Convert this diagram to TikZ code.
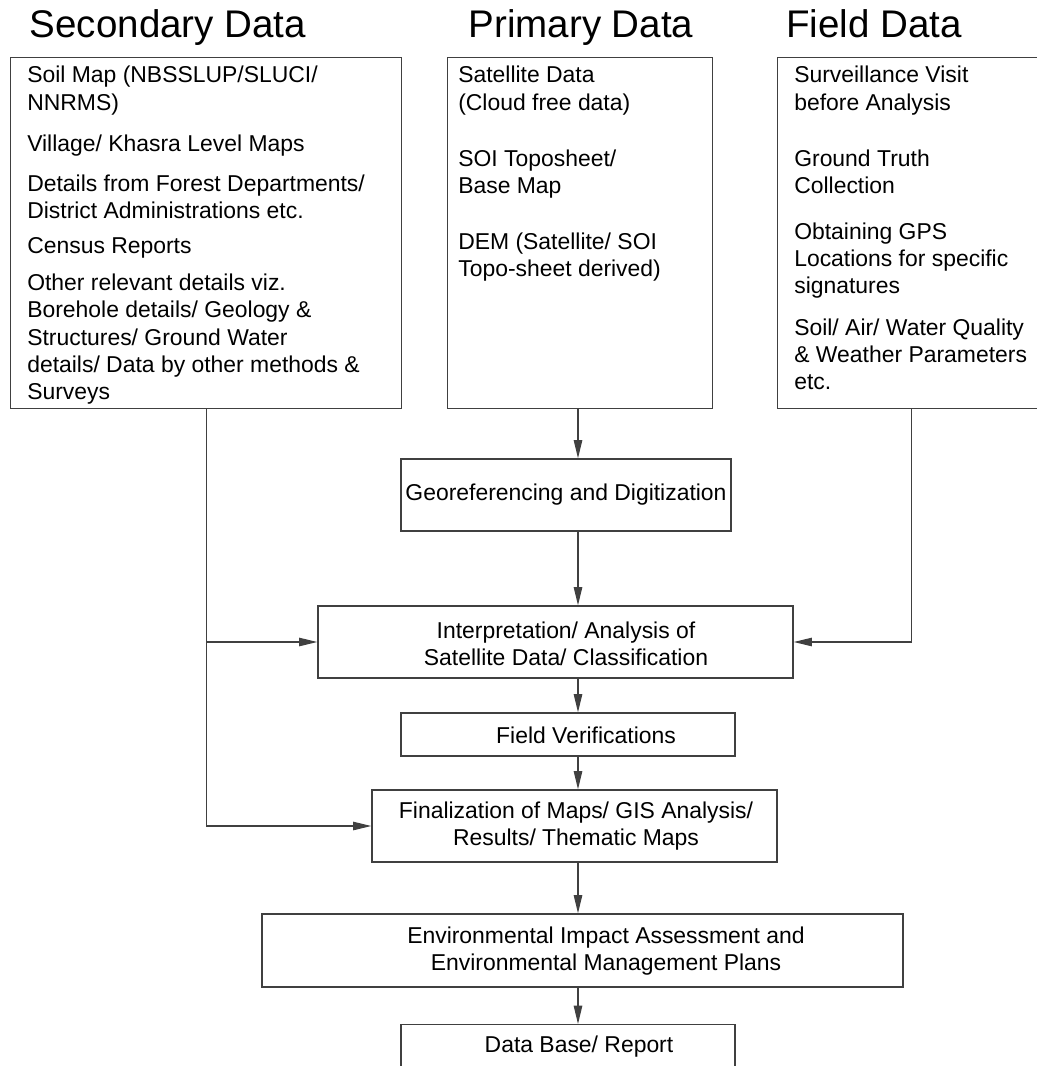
\documentclass[tikz,border=0pt]{standalone}
\usepackage{fontspec}
\setmainfont{Liberation Sans}
\usepackage{tikz}
\usetikzlibrary{arrows.meta,positioning,calc}

\newcommand{\bodyfont}{\fontsize{16.3pt}{19.3pt}\selectfont}
\newcommand{\headfont}{\fontsize{27.4pt}{32pt}\selectfont}

\tikzset{
    frame/.style={draw=black!75, line width=0.9pt, inner sep=0pt},
    boxtext/.style={inner sep=0pt, align=left, anchor=north west, font=\bodyfont},
    steptext/.style={inner sep=0pt, align=center, font=\bodyfont},
    heading/.style={inner sep=0pt, anchor=base, font=\headfont},
    link/.style={draw=black!75, line width=0.9pt, ->},
    >={Triangle[length=13pt,width=6pt]}
}

\begin{document}
\begin{tikzpicture}[x=0.025cm, y=-0.025cm]
    \path[use as bounding box, fill=white] (0,0) rectangle (1037,1066);

    % Headings
    \node[heading] (sechead) at (168,37) {Secondary Data};
    \node[heading] (prihead) at (581,37) {Primary Data};
    \node[heading] (fldhead) at (874,37) {Field Data};

    % Source boxes
    \node[frame, anchor=north west, minimum width=9.775cm, minimum height=8.775cm] (sec) at (10,57) {};
    \node[frame, anchor=north west, minimum width=6.625cm, minimum height=8.775cm] (pri) at (447,57) {};
    \node[frame, anchor=north west, minimum width=6.7cm, minimum height=8.775cm] (fld) at (777,57) {};

    \node[boxtext] (sectxt) at (27,66) {Soil Map (NBSSLUP/SLUCI/\\NNRMS)\\[10pt]
        Village/ Khasra Level Maps\\[9pt]
        Details from Forest Departments/\\District Administrations etc.\\[6pt]
        Census Reports\\[7pt]
        Other relevant details viz.\\Borehole details/ Geology \&\\Structures/ Ground Water\\details/ Data by other methods \&\\Surveys};
    \node[boxtext] (pritxt) at (458,66) {Satellite Data\\(Cloud free data)\\[20.5pt]
        SOI Toposheet/\\Base Map\\[20.5pt]
        DEM (Satellite/ SOI\\Topo-sheet derived)};
    \node[boxtext] (fldtxt) at (794,66) {Surveillance Visit\\before Analysis\\[20.5pt]
        Ground Truth\\Collection\\[13.5pt]
        Obtaining GPS\\Locations for specific\\signatures\\[10.5pt]
        Soil/ Air/ Water Quality\\\& Weather Parameters\\etc.};

    % Processing steps
    \node[frame, minimum width=8.25cm, minimum height=1.8cm] (geo) at (566,495) {};
    \node[frame, minimum width=11.875cm, minimum height=1.8cm] (intp) at (555.5,642) {};
    \node[frame, minimum width=8.35cm, minimum height=1.075cm] (fver) at (568,734.5) {};
    \node[frame, minimum width=10.125cm, minimum height=1.8cm] (fin) at (574.5,826) {};
    \node[frame, minimum width=16.025cm, minimum height=1.825cm] (eia) at (582.5,950.5) {};
    \node[frame, anchor=north, minimum width=8.35cm, minimum height=1.8cm] (db) at (568,1024) {};

    \node[steptext] (geotxt) at (566,495) {Georeferencing and Digitization};
    \node[steptext] (intptxt) at (566,644) {Interpretation/ Analysis of\\Satellite Data/ Classification};
    \node[steptext] (fvertxt) at (586,735) {Field Verifications};
    \node[steptext] (fintxt) at (576,826) {Finalization of Maps/ GIS Analysis/\\Results/ Thematic Maps};
    \node[steptext] (eiatxt) at (606,951) {Environmental Impact Assessment and\\Environmental Management Plans};
    \node[steptext] (dbtxt) at (579,1047) {Data Base/ Report};

    % Main flow
    \coordinate (spine) at (578,0);
    \draw[link] (spine |- pri.south) -- (spine |- geo.north);
    \draw[link] (spine |- geo.south) -- (spine |- intp.north);
    \draw[link] (spine |- intp.south) -- (spine |- fver.north);
    \draw[link] (spine |- fver.south) -- (spine |- fin.north);
    \draw[link] (spine |- fin.south) -- (spine |- eia.north);
    \draw[link] (spine |- eia.south) -- (spine |- db.north);

    % Side feeds
    \draw[link] (sec.south) |- (fin.west);
    \draw[link] (sec.south |- intp.west) -- (intp.west);
    \draw[link] (fld.south) |- (intp.east);

\end{tikzpicture}
\end{document}
